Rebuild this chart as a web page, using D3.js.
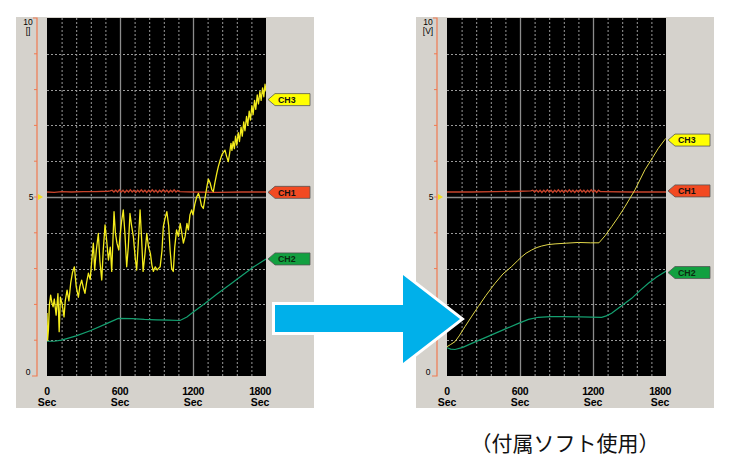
<!DOCTYPE html>
<html><head><meta charset="utf-8">
<script src="https://cdn.jsdelivr.net/npm/d3@7"></script>
<style>body{margin:0;background:#fff;} svg{display:block}</style>
</head><body>
<svg id="c" width="730" height="470"></svg>
<script>
// ---------- DATA ----------
const xTicks = [0, 600, 1200, 1800];
const xUnit = "Sec";
const yMaxLabel = "10";
const yMidLabel = "5";
const yMinLabel = "0";
const yUnits = ["[]", "[V]"];
const channels = ["CH3", "CH1", "CH2"];
const caption = "（付属ソフト使用）";

// Left panel (raw)
const leftCH1 = [[0,5.14],[60,5.13],[120,5.15],[200,5.14],[300,5.15],[400,5.15],[500,5.16],[520,5.17],[535,5.19],[550,5.14],[565,5.19],[580,5.14],[595,5.2],[610,5.14],[625,5.19],[640,5.13],[655,5.19],[670,5.14],[685,5.2],[700,5.14],[715,5.19],[730,5.13],[745,5.19],[760,5.14],[775,5.2],[790,5.14],[805,5.19],[820,5.13],[835,5.19],[850,5.14],[865,5.2],[880,5.14],[895,5.19],[910,5.13],[925,5.19],[940,5.14],[955,5.2],[970,5.14],[985,5.19],[1000,5.13],[1015,5.19],[1030,5.14],[1045,5.2],[1060,5.14],[1075,5.18],[1090,5.15],[1200,5.14],[1400,5.13],[1600,5.14],[1800,5.14]];
const leftCH2 = [[0,0.97],[60,0.97],[120,1.0],[240,1.12],[360,1.27],[480,1.45],[586,1.61],[700,1.6],[800,1.58],[900,1.57],[1000,1.56],[1093,1.55],[1150,1.65],[1200,1.78],[1300,2.03],[1400,2.3],[1518,2.59],[1600,2.8],[1700,3.05],[1800,3.27]];
const leftCH3 = [[0,1.76],[5,1.0],[12,1.3],[20,2.0],[30,2.26],[40,2.05],[50,1.93],[60,2.15],[75,1.7],[90,2.3],[100,1.24],[110,2.2],[125,2.0],[140,1.65],[150,2.1],[165,2.4],[180,2.1],[195,2.6],[210,2.9],[225,3.05],[240,2.5],[258,2.2],[270,2.5],[285,2.68],[300,2.45],[312,2.31],[325,2.6],[340,2.87],[355,2.7],[370,3.3],[381,3.71],[392,2.96],[405,3.5],[422,3.98],[435,3.2],[450,2.68],[462,3.5],[477,4.22],[490,3.8],[505,3.24],[520,3.6],[532,2.92],[542,3.8],[551,4.59],[562,4.0],[575,3.71],[590,3.52],[600,3.9],[612,4.3],[627,4.64],[640,4.0],[655,3.05],[668,3.6],[682,4.54],[695,4.2],[710,3.89],[725,3.3],[737,2.96],[750,3.7],[765,4.64],[778,3.8],[790,2.92],[805,3.4],[820,3.98],[835,3.6],[850,3.42],[862,3.1],[874,2.92],[890,3.05],[905,2.96],[915,3.0],[930,3.05],[945,3.5],[956,4.17],[970,4.4],[985,4.59],[1000,4.2],[1012,3.5],[1025,3.0],[1038,2.92],[1050,3.6],[1065,4.08],[1080,3.9],[1095,4.26],[1108,4.0],[1121,3.71],[1135,3.9],[1150,4.26],[1162,4.08],[1175,4.5],[1189,4.64],[1200,4.5],[1215,4.8],[1230,5.0],[1245,5.1],[1258,4.95],[1270,4.75],[1285,4.68],[1300,5.0],[1315,5.3],[1326,5.5],[1340,5.4],[1355,5.2],[1367,5.15],[1380,5.4],[1395,5.65],[1408,5.85],[1425,6.05],[1440,6.2],[1463,6.31],[1475,6.15],[1490,5.99],[1500,6.2],[1512,6.5],[1520,6.3],[1530,6.55],[1540,6.35],[1550,6.7],[1560,6.45],[1572,6.8],[1582,6.55],[1595,6.95],[1605,6.7],[1617,7.1],[1627,6.85],[1640,7.25],[1650,7.0],[1662,7.4],[1672,7.15],[1684,7.55],[1694,7.3],[1706,7.7],[1716,7.45],[1728,7.85],[1738,7.6],[1750,7.95],[1760,7.7],[1772,8.05],[1782,7.8],[1792,8.15],[1800,7.95]];
const leftTags = [7.72, 5.13, 3.27]; // CH3, CH1, CH2

// Right panel (with software)
const rightCH1 = [[0,5.14],[200,5.14],[400,5.15],[600,5.16],[690,5.17],[705,5.19],[720,5.14],[735,5.19],[750,5.14],[765,5.19],[780,5.13],[795,5.19],[810,5.14],[825,5.2],[840,5.14],[855,5.19],[870,5.13],[885,5.19],[900,5.14],[915,5.2],[930,5.14],[945,5.19],[960,5.13],[975,5.19],[990,5.14],[1005,5.2],[1020,5.14],[1035,5.19],[1050,5.13],[1065,5.19],[1080,5.14],[1095,5.2],[1110,5.14],[1125,5.19],[1140,5.13],[1155,5.19],[1170,5.14],[1185,5.2],[1200,5.14],[1215,5.19],[1230,5.13],[1245,5.19],[1260,5.15],[1270,5.15],[1500,5.14],[1800,5.14]];
const rightCH2 = [[0,0.79],[30,0.75],[66,0.74],[130,0.8],[203,0.91],[300,1.05],[395,1.19],[490,1.33],[587,1.47],[670,1.58],[751,1.64],[850,1.66],[942,1.66],[1100,1.65],[1271,1.64],[1310,1.68],[1353,1.75],[1430,1.95],[1518,2.17],[1590,2.4],[1655,2.59],[1720,2.76],[1792,2.91],[1800,2.93]];
const rightCH3 = [[0,0.82],[30,0.88],[66,0.96],[100,1.12],[148,1.38],[200,1.65],[257,1.94],[320,2.25],[395,2.59],[460,2.85],[532,3.06],[580,3.22],[614,3.33],[650,3.43],[696,3.52],[740,3.59],[778,3.63],[830,3.67],[888,3.69],[980,3.71],[1079,3.73],[1180,3.72],[1249,3.72],[1300,3.92],[1353,4.17],[1410,4.45],[1463,4.73],[1545,5.2],[1627,5.76],[1690,6.1],[1737,6.36],[1792,6.61],[1800,6.64]];
const rightTags = [6.59, 5.17, 2.89];

// ---------- STYLE ----------
const chColor = {CH3:"#f2ea2a", CH1:"#c8442c", CH2:"#14a070"};
const tagFill = {CH3:"#ffff00", CH1:"#f24a22", CH2:"#12a040"};

const svg = d3.select("#c");

function panel(ox, data, tags, unit, yellowColor, yellowWidth) {
  const g = svg.append("g").attr("transform", `translate(${ox},0)`);
  const x = d3.scaleLinear().domain([0, 1800]).range([47, 266]);
  const y = d3.scaleLinear().domain([0, 10]).range([376, 18]);

  g.append("rect").attr("x", 16).attr("y", 17).attr("width", 298).attr("height", 391).attr("fill", "#d5d2cc");
  g.append("rect").attr("x", x(0)).attr("y", y(10)).attr("width", x(1800) - x(0)).attr("height", y(0) - y(10)).attr("fill", "#000");

  // grid
  const minorX = d3.range(120, 1800, 120).filter(t => t % 600 !== 0);
  g.selectAll(".vg").data(minorX).join("line")
    .attr("x1", d => x(d) + 0.5).attr("x2", d => x(d) + 0.5)
    .attr("y1", y(10)).attr("y2", y(0))
    .attr("stroke", "#9a9a9a").attr("stroke-width", 1).attr("stroke-dasharray", "2,2");
  const minorY = d3.range(1, 10).filter(v => v !== 5);
  g.selectAll(".hg").data(minorY).join("line")
    .attr("y1", d => Math.round(y(d)) + 0.5).attr("y2", d => Math.round(y(d)) + 0.5)
    .attr("x1", x(0)).attr("x2", x(1800))
    .attr("stroke", "#9a9a9a").attr("stroke-width", 1).attr("stroke-dasharray", "2,2");
  g.selectAll(".vs").data([600, 1200]).join("line")
    .attr("x1", d => x(d) + 0.5).attr("x2", d => x(d) + 0.5)
    .attr("y1", y(10)).attr("y2", y(0))
    .attr("stroke", "#8c8c8c").attr("stroke-width", 1.3);
  g.append("line").attr("x1", x(0)).attr("x2", x(1800))
    .attr("y1", Math.round(y(5)) + 0.5).attr("y2", Math.round(y(5)) + 0.5)
    .attr("stroke", "#8c8c8c").attr("stroke-width", 1.3);

  // y axis (orange)
  const ax = 37;
  const orange = "#f07a50";
  g.append("path").attr("d", `M33,${y(10)}H${ax}V${y(0)}H32`)
    .attr("fill", "none").attr("stroke", orange).attr("stroke-width", 1.2);
  g.selectAll(".yt").data(d3.range(1, 10)).join("line")
    .attr("x1", ax - 3).attr("x2", ax).attr("y1", d => y(d)).attr("y2", d => y(d))
    .attr("stroke", orange).attr("stroke-width", 1);
  const lf = "'Liberation Sans', Arial, sans-serif";
  g.append("text").attr("x", 28).attr("y", y(10) + 7).attr("text-anchor", "middle")
    .attr("font-family", lf).attr("font-size", 8.5).text(yMaxLabel);
  g.append("text").attr("x", 28).attr("y", y(10) + 16).attr("text-anchor", "middle")
    .attr("font-family", lf).attr("font-size", 8.5).text(unit);
  g.append("text").attr("x", 31).attr("y", y(5) + 3).attr("text-anchor", "middle")
    .attr("font-family", lf).attr("font-size", 8.5).text(yMidLabel);
  g.append("path").attr("d", `M38,${y(5) - 3}L43,${y(5)}L38,${y(5) + 3}Z`).attr("fill", "#f0e020");
  g.append("text").attr("x", 28).attr("y", y(0) - 1).attr("text-anchor", "middle")
    .attr("font-family", lf).attr("font-size", 8.5).text(yMinLabel);

  // x labels
  const xl = g.selectAll(".xl").data(xTicks).join("g")
    .attr("transform", (d, i) => `translate(${x(d) - (i === xTicks.length - 1 ? 6 : 0)},0)`);
  xl.append("text").attr("y", 394.5).attr("text-anchor", "middle")
    .attr("font-family", lf).attr("font-weight", "bold").attr("font-size", 10.5)
    .attr("letter-spacing", -0.4).text(d => d);
  xl.append("text").attr("y", 405.5).attr("text-anchor", "middle")
    .attr("font-family", lf).attr("font-weight", "bold").attr("font-size", 10.5).text(xUnit);

  // series
  const line = d3.line().x(d => x(d[0])).y(d => y(d[1]));
  const clipId = "clip" + ox;
  g.append("clipPath").attr("id", clipId).append("rect")
    .attr("x", x(0)).attr("y", y(10)).attr("width", x(1800) - x(0)).attr("height", y(0) - y(10));
  const sg = g.append("g").attr("clip-path", `url(#${clipId})`);
  sg.append("path").datum(data.CH1).attr("d", line).attr("fill", "none")
    .attr("stroke", chColor.CH1).attr("stroke-width", 1.4);
  sg.append("path").datum(data.CH2).attr("d", line).attr("fill", "none")
    .attr("stroke", chColor.CH2).attr("stroke-width", 1.2);
  sg.append("path").datum(data.CH3).attr("d", line).attr("fill", "none")
    .attr("stroke", yellowColor).attr("stroke-width", yellowWidth).attr("stroke-linejoin", "round");

  // tags
  const tip = x(1800) + 2;
  const tg = g.selectAll(".tag").data(channels.map((c, i) => ({c, v: tags[i]}))).join("g")
    .attr("transform", d => `translate(${tip},${y(d.v)})`);
  tg.append("path").attr("d", "M0,0L7,-6H42V6H7Z")
    .attr("fill", d => tagFill[d.c]).attr("stroke", "#555").attr("stroke-width", 0.8);
  tg.append("text").attr("x", 10).attr("y", 3.3)
    .attr("font-family", lf).attr("font-weight", "bold").attr("font-size", 8.8)
    .attr("fill", d => d.c === "CH2" ? "#0a2a10" : "#111").text(d => d.c);
}

panel(0, {CH1: leftCH1, CH2: leftCH2, CH3: leftCH3}, leftTags, yUnits[0], "#f4ec1c", 1.3);
panel(400, {CH1: rightCH1, CH2: rightCH2, CH3: rightCH3}, rightTags, yUnits[1], "#e2d84a", 1.0);

// big arrow
svg.append("path")
  .attr("d", "M275,305H403V275L460,319L403,363V332H275Z")
  .attr("fill", "#00b0ea").attr("stroke", "#fff").attr("stroke-width", 6)
  .attr("stroke-linejoin", "miter").attr("paint-order", "stroke");

// caption
svg.append("text").attr("x", 565).attr("y", 451).attr("text-anchor", "middle")
  .attr("font-family", "'Noto Sans CJK JP', sans-serif").attr("font-size", 21)
  .attr("fill", "#111").text(caption);
</script>
</body></html>
